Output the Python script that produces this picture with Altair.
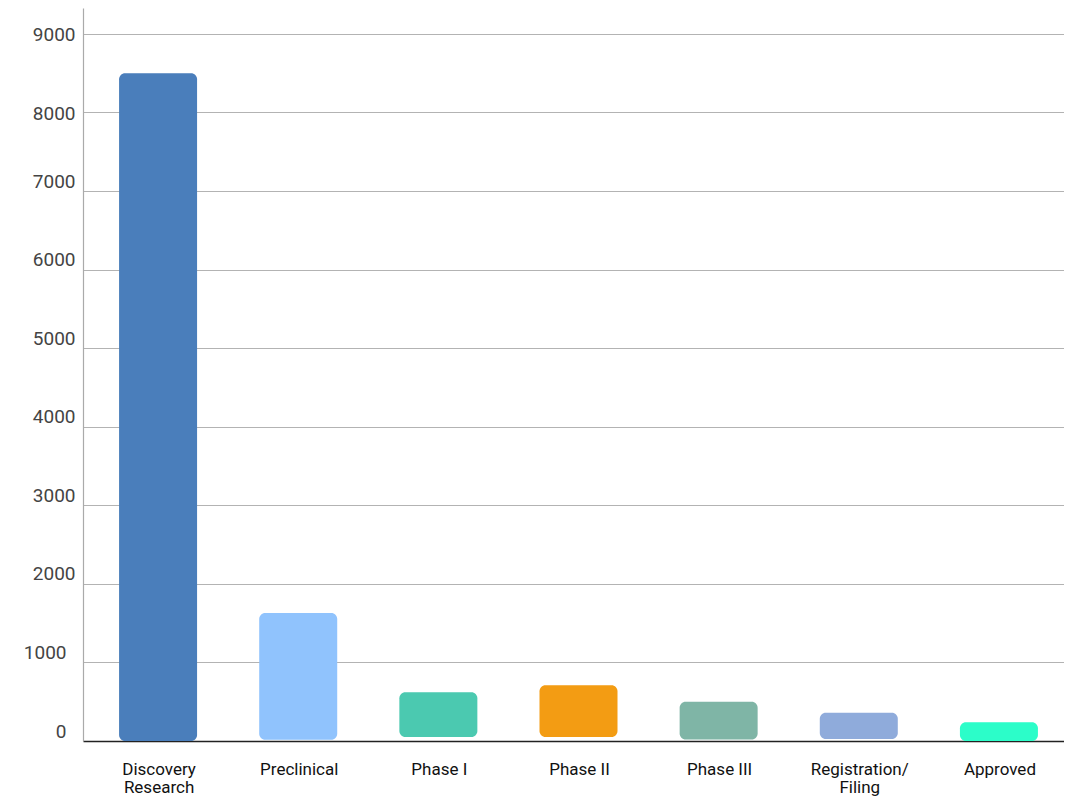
import altair as alt
import pandas as pd

categories = ["Discovery Research", "Preclinical", "Phase I", "Phase II",
              "Phase III", "Registration/ Filing", "Approved"]
bar_start = [0, 15, 50, 50, 20, 25, 0]
bar_end = [8500, 1630, 620, 710, 500, 360, 240]
colors = ["#4a7ebb", "#90c3fd", "#4bc9b0", "#f39c13", "#7fb5a6", "#8fabdb", "#2cfdc9"]
y_ticks = [0, 1000, 2000, 3000, 4000, 5000, 6000, 7000, 8000, 9000]

df = pd.DataFrame({"stage": categories, "start": bar_start, "end": bar_end})

chart = alt.Chart(df).mark_bar(size=78, cornerRadius=6, xOffset=5).encode(
    x=alt.X("stage:N", sort=categories,
            scale=alt.Scale(range=[0, 981], paddingInner=0, paddingOuter=0),
            axis=alt.Axis(title=None, ticks=False, grid=False, labelAngle=0,
                          labelFont="Roboto", labelFontSize=17, labelColor="#111111",
                          labelPadding=20, labelLineHeight=18, labelOffset=6,
                          labelExpr="length(datum.label) > 12 ? split(datum.label, ' ') : datum.label",
                          domainColor="#222222", domainWidth=1.5)),
    y=alt.Y("start:Q", scale=alt.Scale(domain=[0, 9330], nice=False),
            axis=alt.Axis(title=None, values=y_ticks, ticks=False, format="d",
                          labelFont="Roboto", labelFontSize=19, labelColor="#444444",
                          labelOffset={"condition": {"test": "datum.value >= 8000", "value": 1}, "value": -10},
                          labelPadding={"condition": {"test": "datum.value <= 1000", "value": 17}, "value": 8},
                          gridColor="#b3b3b3", gridWidth=1.2,
                          domainColor="#aaaaaa", domainWidth=1.2)),
    y2="end:Q",
    color=alt.Color("stage:N", sort=categories,
                    scale=alt.Scale(domain=categories, range=colors), legend=None),
).properties(
    width=981, height=733,
    autosize=alt.AutoSizeParams(type="none"),
    padding={"left": 75, "top": 0, "right": 0, "bottom": 55},
).configure_view(stroke=None)

chart.save("out.html", embed_options={"renderer": "svg", "actions": False})
